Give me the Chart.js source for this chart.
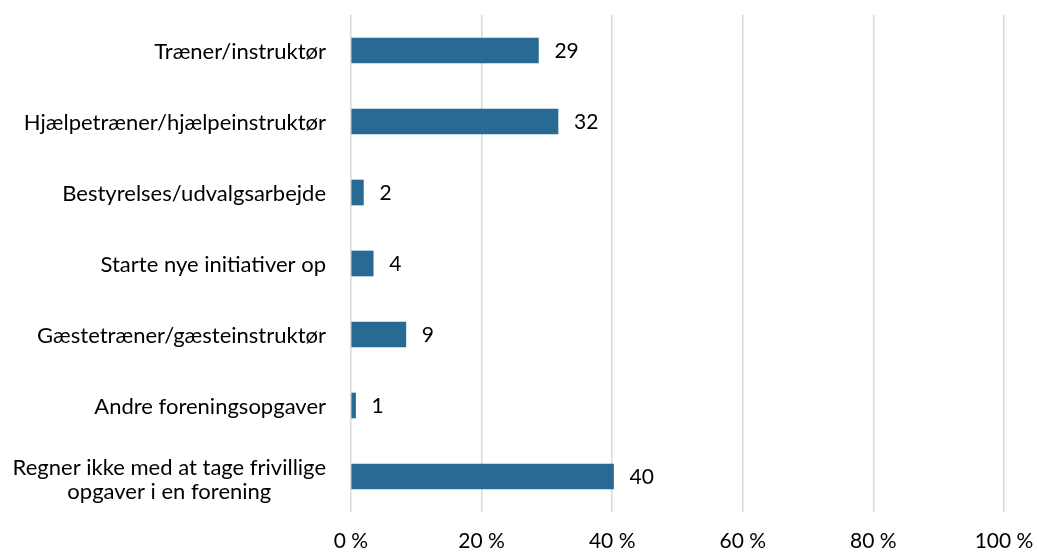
<!DOCTYPE html>
<html>
<head>
<meta charset="utf-8">
<script src="https://cdn.jsdelivr.net/npm/chart.js@4"></script>
<style>
  html, body { margin: 0; padding: 0; background: #fff; }
  #wrap { width: 1037px; height: 552px; }
</style>
</head>
<body>
<div id="wrap"><canvas id="chart" width="1037" height="552"></canvas></div>
<script>
// Kategorier og værdier (procent)
const kategorier = [
    'Træner/instruktør',
    'Hjælpetræner/hjælpeinstruktør',
    'Bestyrelses/udvalgsarbejde',
    'Starte nye initiativer op',
    'Gæstetræner/gæsteinstruktør',
    'Andre foreningsopgaver',
    ['Regner ikke med at tage frivillige', 'opgaver i en forening']
];
const andele = [28.7, 31.7, 1.9, 3.4, 8.4, 0.7, 40.2];
const viste = [29, 32, 2, 4, 9, 1, 40]; // tal som de står ved søjlerne
const xTicks = [0, 20, 40, 60, 80, 100];

const FONT = 'Lato, "Open Sans", sans-serif';

// Skriver tallet ved siden af hver søjle
const vaerdiLabels = {
    id: 'vaerdiLabels',
    afterDatasetsDraw(chart) {
        const ctx = chart.ctx;
        const meta = chart.getDatasetMeta(0);
        ctx.save();
        ctx.font = '21px ' + FONT;
        ctx.fillStyle = '#000';
        ctx.textBaseline = 'middle';
        ctx.textAlign = 'left';
        meta.data.forEach((bar, i) => {
            ctx.fillText(viste[i], bar.x + 16, bar.y + 1);
        });
        ctx.restore();
    }
};

// Kategoritekster: højrestillet, flere linjer centreres om hinanden
const kategoriTekst = {
    id: 'kategoriTekst',
    afterDraw(chart) {
        const ctx = chart.ctx;
        const y = chart.scales.y;
        const hoejre = y.right - 25;
        ctx.save();
        ctx.font = '22px ' + FONT;
        ctx.fillStyle = '#000';
        ctx.textBaseline = 'middle';
        kategorier.forEach((lbl, i) => {
            const py = y.getPixelForTick(i);
            if (Array.isArray(lbl)) {
                const w = Math.max(...lbl.map(t => ctx.measureText(t).width));
                const cx = hoejre - w / 2;
                const lh = 24;
                ctx.textAlign = 'center';
                lbl.forEach((t, j) => {
                    ctx.fillText(t, cx, py + 3 + (j - (lbl.length - 1) / 2) * lh);
                });
            } else {
                ctx.textAlign = 'right';
                ctx.fillText(lbl, hoejre, py + 1);
            }
        });
        ctx.restore();
    }
};

new Chart(document.getElementById('chart'), {
    type: 'bar',
    data: {
        labels: kategorier,
        datasets: [{
            data: andele,
            backgroundColor: '#286a93',
            barThickness: 25
        }]
    },
    options: {
        indexAxis: 'y',
        responsive: false,
        animation: false,
        layout: { padding: { top: 15, right: 33, left: 0, bottom: 0 } },
        plugins: {
            legend: { display: false },
            tooltip: { enabled: false }
        },
        scales: {
            x: {
                min: 0,
                max: 100,
                afterBuildTicks: (scale) => { scale.ticks = xTicks.map(v => ({ value: v })); },
                afterFit: (scale) => {
                    scale.height = 40;
                    scale.paddingLeft = 0;
                    scale.paddingRight = 0;
                },
                border: { display: false },
                grid: { color: '#d9d9d9', lineWidth: 1.5, drawTicks: false },
                ticks: {
                    padding: 17,
                    color: '#000',
                    font: { family: FONT, size: 21 },
                    callback: (v) => v + ' %'
                }
            },
            y: {
                afterFit: (scale) => {
                    scale.width = 351;
                    scale.paddingTop = 0;
                    scale.paddingBottom = 0;
                },
                border: { display: false },
                grid: { display: false },
                ticks: { display: false }
            }
        }
    },
    plugins: [vaerdiLabels, kategoriTekst]
});
</script>
</body>
</html>
